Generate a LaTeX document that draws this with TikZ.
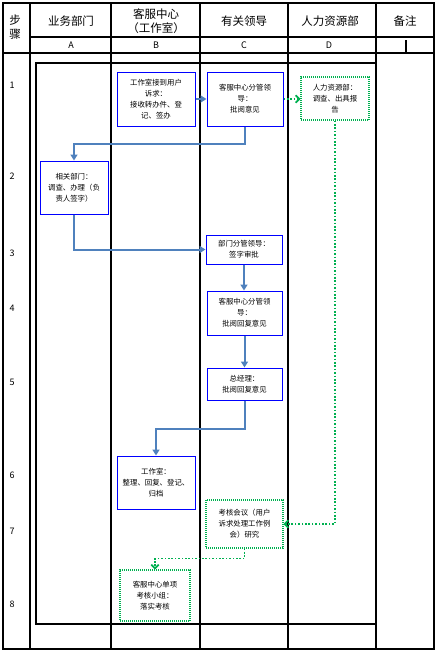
\documentclass[tikz,border=0pt]{standalone}
\usepackage{fontspec}
\setmainfont{Noto Sans CJK SC}
\usepackage{xcolor}
\usetikzlibrary{arrows.meta}

\definecolor{boxblue}{RGB}{0,0,255}
\definecolor{flowblue}{RGB}{79,129,189}
\definecolor{dotgreen}{RGB}{0,176,80}

\begin{document}
\begin{tikzpicture}[x=1pt, y=-1pt,
    stepbox/.style={draw=boxblue, line width=1pt, inner sep=0pt, align=center,
        font=\fontsize{7.4}{11}\selectfont},
    dotbox/.style={draw=dotgreen, line width=1.1pt, dash pattern=on 1pt off 1pt, inner sep=0pt,
        align=center, font=\fontsize{7.4}{11}\selectfont},
    flow/.style={draw=flowblue, line width=2pt, -{Triangle[length=6pt,width=7pt]}},
    dotflow/.style={draw=dotgreen, line width=1.8pt, dash pattern=on 1.6pt off 1.8pt,
        -{Straight Barb[length=3.5pt,width=7.5pt]}},
    head/.style={font=\fontsize{11.5}{14}\selectfont, align=center},
    col/.style={font=\fontsize{9}{11}\selectfont},
    num/.style={font=\fontsize{9}{11}\selectfont},
    rule/.style={line width=1.2pt}]

        \useasboundingbox (0, 0) rectangle (437, 651);

        \draw[rule] (3, 3) rectangle (434, 649);

        \draw[rule] (30, 3) -- (30, 649);
        \draw[rule] (111, 3) -- (111, 649);
        \draw[rule] (200, 3) -- (200, 649);
        \draw[rule] (288, 3) -- (288, 649);
        \draw[rule] (376, 3) -- (376, 649);

        \draw[rule] (30, 37) -- (434, 37);
        \draw[rule] (3, 53) -- (434, 53);
        \draw[rule] (406, 40) -- (406, 53);

        \draw[rule] (36, 63) rectangle (376, 624);

        \node[head] (hstep) at (15, 27) {步\\骤};
        \node[head] (hA) at (71, 21) {业务部门};
        \node[head] (hB) at (156, 21) {客服中心\\（工作室）};
        \node[head] (hC) at (244, 21) {有关领导};
        \node[head] (hD) at (330, 21) {人力资源部};
        \node[head] (hE) at (405, 21) {备注};

        \node[col] (cA) at (71, 45) {A};
        \node[col] (cB) at (156, 45) {B};
        \node[col] (cC) at (244, 45) {C};
        \node[col] (cD) at (329, 45) {D};

        \foreach \n/\y in {1/85, 2/176, 3/253, 4/308, 5/382, 6/475, 7/531, 8/604} {
            \node[num] (s\n) at (12, \y) {\n};
        }

        \node[stepbox, minimum width=78, minimum height=54] (b1) at (156, 99)
            {工作室接到用户\\诉求：\\接收转办件、登\\记、签办};
        \node[stepbox, minimum width=76, minimum height=54] (c1) at (245, 99)
            {客服中心分管领\\导：\\批阅意见};
        \node[dotbox, minimum width=68, minimum height=43] (d1) at (335, 98.5)
            {人力资源部：\\调查、出具报\\告};
        \node[stepbox, minimum width=68, minimum height=53] (a2) at (74, 187.5)
            {相关部门：\\调查、办理（负\\责人签字）};
        \node[stepbox, minimum width=76, minimum height=29] (c3) at (244, 249.5)
            {部门分管领导：\\签字审批};
        \node[stepbox, minimum width=75, minimum height=44] (c4) at (244.5, 313)
            {客服中心分管领\\导：\\批阅回复意见};
        \node[stepbox, minimum width=75, minimum height=32] (c5) at (244.5, 384)
            {总经理：\\批阅回复意见};
        \node[stepbox, minimum width=78, minimum height=53] (b6) at (156, 482.5)
            {工作室：\\整理、回复、登记、\\归档};
        \node[dotbox, minimum width=77, minimum height=48] (c7) at (244.5, 524)
            {考核会议（用户\\诉求处理工作例\\会）研究};
        \node[dotbox, minimum width=70, minimum height=51] (b8) at (155, 595.5)
            {客服中心单项\\考核小组：\\落实考核};

        \draw[flow] (b1.east) -- (c1.west);
        \draw[dotflow] (c1.east) -- (c1.east -| d1.west);
        \draw[flow] (c1.south) -- ++(0, 17) -| (a2.north);
        \draw[flow] (a2.south) |- (c3.west);
        \draw[flow] (c3.south) -- (c3.south |- c4.north);
        \draw[flow] (c4.south) -- (c4.south |- c5.north);
        \draw[flow] (c5.south) -- ++(0, 28) -| (b6.north);
        \draw[dotflow] (d1.south) |- (c7.east);
        \draw[dotflow] (c7.south) -- ++(0, 10) -| (b8.north);

    \end{tikzpicture}
\end{document}
